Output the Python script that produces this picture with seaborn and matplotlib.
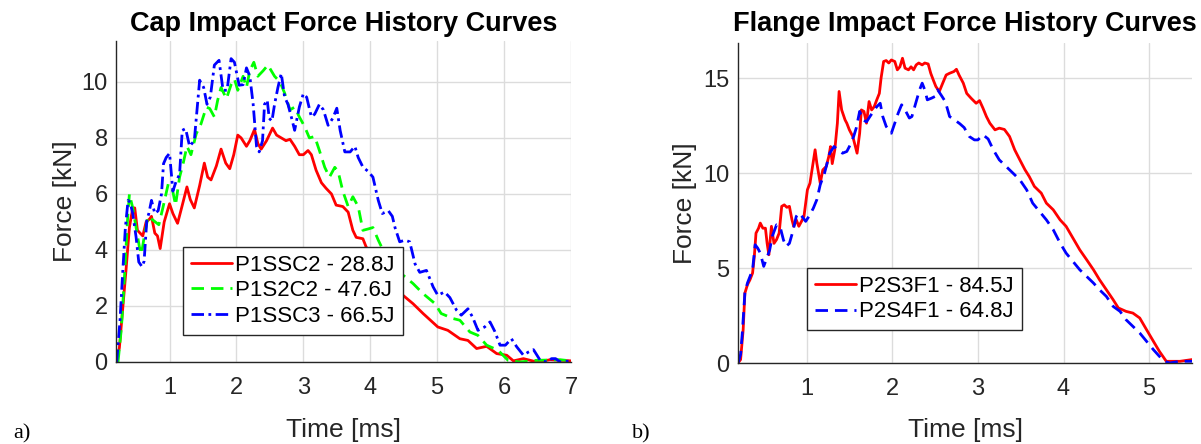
import numpy as np
import pandas as pd
import matplotlib
matplotlib.use("Agg")
import matplotlib.pyplot as plt
import seaborn as sns

# ---------------- data ----------------
cap_titles = "Cap Impact Force History Curves"
flange_title = "Flange Impact Force History Curves"

# Left panel: P1SSC2 - 28.8J (red, solid)
p1ssc2_t = [0.2, 0.25, 0.3, 0.35, 0.4, 0.45, 0.48, 0.52, 0.56, 0.6, 0.65, 0.7, 0.73, 0.78, 0.82, 0.86, 0.92,
            1.0, 1.05, 1.12, 1.18, 1.26, 1.31, 1.37, 1.45, 1.52, 1.57, 1.62, 1.7, 1.77, 1.84, 1.9, 1.96,
            2.02, 2.07, 2.15, 2.2, 2.27, 2.32, 2.37, 2.45, 2.54, 2.6, 2.67, 2.74, 2.8, 2.87, 2.94, 3.0,
            3.07, 3.12, 3.19, 3.27, 3.34, 3.42, 3.49, 3.59, 3.67, 3.74, 3.79, 3.89, 3.94, 4.05, 4.2,
            4.35, 4.46, 4.64, 4.79, 5.01, 5.16, 5.34, 5.46, 5.59, 5.74, 5.89, 6.04, 6.14, 6.29, 6.49,
            6.69, 7.0]
p1ssc2_f = [0.0, 0.5, 1.9, 3.3, 4.8, 5.5, 5.5, 4.7, 4.6, 4.5, 5.0, 5.1, 5.2, 4.6, 4.5, 4.05, 5.0,
            5.65, 5.3, 4.95, 5.5, 6.25, 5.8, 5.5, 6.3, 7.1, 6.6, 6.5, 7.0, 7.6, 7.1, 6.9, 7.4,
            8.1, 8.0, 7.7, 7.9, 8.3, 7.8, 7.6, 7.9, 8.35, 8.1, 8.0, 7.9, 7.95, 7.7, 7.4, 7.4,
            7.55, 7.4, 6.85, 6.4, 6.2, 6.0, 5.6, 5.55, 5.35, 4.7, 4.45, 4.4, 4.1, 3.8, 3.3,
            2.8, 2.44, 2.08, 1.73, 1.25, 1.13, 0.83, 0.77, 0.48, 0.56, 0.3, 0.24, 0.04, 0.12, 0.0,
            0.08, 0.04]

# Left panel: P1S2C2 - 47.6J (green, dashed)
p1s2c2_t = [0.23, 0.28, 0.33, 0.37, 0.4, 0.45, 0.5, 0.55, 0.58, 0.63, 0.68, 0.76, 0.84, 0.9, 0.98, 1.04,
            1.09, 1.15, 1.2, 1.26, 1.32, 1.4, 1.47, 1.55, 1.6, 1.67, 1.72, 1.77, 1.85, 1.92, 1.97, 2.02,
            2.1, 2.15, 2.2, 2.26, 2.32, 2.4, 2.47, 2.52, 2.57, 2.65, 2.72, 2.8, 2.87, 2.94, 3.02, 3.09,
            3.17, 3.24, 3.32, 3.39, 3.47, 3.52, 3.59, 3.67, 3.74, 3.82, 3.89, 3.97, 4.04, 4.12, 4.17,
            4.3, 4.49, 4.64, 4.79, 4.97, 5.06, 5.24, 5.34, 5.49, 5.61, 5.74, 5.91, 6.06, 6.24, 6.49,
            6.84, 7.0]
p1s2c2_f = [0.0, 1.2, 3.2, 5.0, 6.0, 5.5, 4.8, 4.1, 3.85, 4.6, 5.2, 5.05, 4.9, 5.5, 6.35, 6.2,
            5.6, 6.6, 7.05, 7.7, 7.4, 8.15, 8.5, 9.1, 9.05, 8.75, 9.35, 9.8, 9.4, 9.9, 10.1, 9.7,
            10.2, 9.8, 10.4, 10.7, 10.2, 10.4, 10.6, 10.4, 10.2, 10.0, 9.6, 9.0, 9.1, 8.75, 8.4, 8.0,
            8.05, 7.55, 6.95, 6.6, 6.95, 6.8, 6.1, 5.55, 5.9, 5.55, 4.7, 4.75, 4.8, 4.35, 4.1,
            3.6, 3.1, 2.8, 2.44, 2.08, 1.73, 1.55, 1.49, 1.07, 0.95, 0.6, 0.42, 0.06, 0.0, 0.06,
            0.08, 0.04]

# Left panel: P1SSC3 - 66.5J (blue, dash-dot)
p1ssc3_t = [0.21, 0.26, 0.3, 0.34, 0.38, 0.41, 0.45, 0.5, 0.54, 0.59, 0.62, 0.66, 0.69, 0.73, 0.78, 0.83,
            0.88, 0.91, 0.95, 1.0, 1.05, 1.1, 1.15, 1.19, 1.24, 1.3, 1.37, 1.45, 1.51, 1.56, 1.61, 1.67,
            1.74, 1.8, 1.86, 1.92, 1.97, 2.04, 2.1, 2.15, 2.2, 2.25, 2.3, 2.34, 2.39, 2.42, 2.46, 2.49,
            2.53, 2.57, 2.62, 2.67, 2.72, 2.77, 2.82, 2.87, 2.94, 3.0, 3.05, 3.12, 3.17, 3.24, 3.3,
            3.37, 3.44, 3.5, 3.55, 3.62, 3.7, 3.77, 3.82, 3.89, 3.97, 4.04, 4.12, 4.18, 4.27, 4.33,
            4.37, 4.44, 4.52, 4.59, 4.67, 4.74, 4.84, 4.94, 5.01, 5.11, 5.19, 5.29, 5.36, 5.46, 5.53,
            5.61, 5.71, 5.79, 5.86, 5.94, 6.02, 6.11, 6.19, 6.29, 6.36, 6.44, 6.54, 6.64, 6.71, 6.77,
            6.84, 7.0]
p1ssc3_f = [0.0, 1.5, 3.2, 4.8, 5.77, 5.7, 5.3, 4.46, 3.57, 3.4, 3.6, 5.06, 5.3, 5.77, 5.3, 5.4,
            6.0, 7.08, 7.3, 7.45, 6.1, 6.46, 6.7, 8.27, 8.33, 7.7, 7.9, 10.06, 9.8, 9.2, 9.46, 10.6,
            10.77, 9.7, 9.7, 10.83, 10.7, 9.88, 9.9, 10.5, 10.2, 9.2, 7.7, 7.5, 7.9, 9.2, 9.35, 8.7,
            8.6, 9.2, 9.8, 10.3, 9.46, 9.2, 8.75, 8.27, 9.1, 9.58, 9.45, 8.75, 8.85, 9.2, 9.0,
            8.45, 8.7, 9.06, 8.27, 7.5, 7.5, 7.7, 7.3, 6.96, 6.8, 6.6, 5.77, 5.3, 5.4, 5.2,
            4.8, 4.29, 4.35, 4.29, 3.5, 3.2, 3.27, 2.68, 2.38, 2.5, 2.3, 1.85, 1.67, 1.9, 1.6,
            1.13, 1.25, 1.43, 1.1, 0.6, 0.6, 0.83, 0.54, 0.24, 0.35, 0.44, 0.06, 0.0, 0.12, 0.12,
            0.0, 0.04]

# Right panel: P2S3F1 - 84.5J (red, solid)
p2s3f1_t = [0.2, 0.23, 0.26, 0.28, 0.31, 0.34, 0.37, 0.39, 0.41, 0.44, 0.46, 0.49, 0.52, 0.54, 0.56, 0.59,
            0.62, 0.65, 0.68, 0.71, 0.74, 0.77, 0.8, 0.83, 0.85, 0.88, 0.91, 0.94, 0.97, 1.01, 1.04, 1.07,
            1.1, 1.12, 1.16, 1.19, 1.23, 1.26, 1.28, 1.3, 1.33, 1.36, 1.38, 1.41, 1.45, 1.47, 1.5, 1.54,
            1.56, 1.59, 1.62, 1.64, 1.67, 1.7, 1.73, 1.76, 1.79, 1.82, 1.85, 1.87, 1.9, 1.93, 1.96, 1.99,
            2.03, 2.06, 2.09, 2.12, 2.15, 2.19, 2.22, 2.25, 2.28, 2.31, 2.35, 2.38, 2.42, 2.45, 2.48,
            2.51, 2.55, 2.59, 2.63, 2.67, 2.72, 2.75, 2.78, 2.83, 2.87, 2.92, 2.98, 3.02, 3.06, 3.1,
            3.14, 3.2, 3.25, 3.31, 3.37, 3.43, 3.49, 3.55, 3.6, 3.66, 3.74, 3.8, 3.88, 3.96, 4.03,
            4.11, 4.19, 4.27, 4.35, 4.42, 4.5, 4.58, 4.64, 4.73, 4.81, 4.89, 4.97, 5.05, 5.12, 5.2,
            5.28, 5.36, 5.5]
p2s3f1_f = [0.0, 0.18, 1.75, 3.68, 4.12, 4.39, 4.74, 5.6, 6.84, 7.1, 7.37, 7.1, 7.1, 6.3, 5.7, 7.2,
            6.3, 6.5, 6.84, 8.25, 8.33, 8.2, 8.25, 7.54, 7.2, 7.54, 7.2, 7.45, 7.72, 9.12, 9.47, 10.35,
            11.23, 10.53, 9.47, 10.17, 10.35, 10.88, 11.4, 10.5, 11.23, 12.63, 14.3, 13.33, 12.8, 12.63, 12.28, 11.93,
            11.58, 11.05, 12.1, 13.33, 13.25, 12.63, 13.77, 13.33, 13.5, 13.86, 14.2, 15.0, 15.88, 15.93, 15.8, 15.96,
            15.88, 15.44, 15.6, 16.05, 15.53, 15.44, 15.6, 15.44, 15.7, 15.8, 15.7, 15.8, 15.75, 15.26, 14.9,
            14.56, 14.3, 14.74, 15.17, 15.26, 15.35, 15.47, 15.17, 14.74, 14.2, 13.95, 13.68, 13.82, 13.42, 12.98,
            12.63, 12.28, 12.37, 12.3, 11.93, 11.23, 10.7, 10.18, 9.82, 9.3, 8.95, 8.42, 8.07, 7.54, 7.2,
            6.58, 5.96, 5.44, 4.91, 4.39, 3.86, 3.33, 2.9, 2.72, 2.63, 2.37, 1.75, 1.14, 0.61, 0.09,
            0.09, 0.09, 0.18]

# Right panel: P2S4F1 - 64.8J (blue, dashed)
p2s4f1_t = [0.2, 0.23, 0.25, 0.28, 0.31, 0.34, 0.37, 0.4, 0.43, 0.46, 0.5, 0.53, 0.57, 0.6, 0.65, 0.69,
            0.73, 0.76, 0.8, 0.84, 0.88, 0.91, 0.95, 0.99, 1.04, 1.08, 1.12, 1.16, 1.21, 1.27, 1.32, 1.37,
            1.42, 1.47, 1.5, 1.55, 1.58, 1.62, 1.66, 1.7, 1.74, 1.78, 1.82, 1.86, 1.89, 1.93, 1.99, 2.03,
            2.07, 2.11, 2.15, 2.2, 2.23, 2.28, 2.32, 2.35, 2.38, 2.41, 2.46, 2.5, 2.53, 2.57, 2.62, 2.67,
            2.73, 2.79, 2.84, 2.9, 2.96, 3.0, 3.06, 3.12, 3.18, 3.25, 3.33, 3.41, 3.49, 3.57, 3.64,
            3.72, 3.8, 3.88, 3.96, 4.03, 4.11, 4.19, 4.27, 4.35, 4.42, 4.5, 4.58, 4.66, 4.73, 4.81,
            4.89, 4.97, 5.05, 5.12, 5.18, 5.24, 5.36, 5.5]
p2s4f1_f = [0.0, 0.45, 1.58, 3.68, 4.21, 4.56, 4.91, 6.23, 6.05, 5.79, 5.09, 5.45, 5.96, 6.67, 7.28, 7.2,
            6.49, 6.14, 6.3, 6.93, 7.72, 7.9, 7.7, 7.46, 7.81, 8.16, 8.6, 9.39, 10.0, 11.05, 11.4, 11.23,
            11.05, 11.14, 11.4, 11.93, 12.37, 13.25, 12.8, 12.7, 12.98, 13.25, 13.5, 13.68, 12.98, 12.46, 12.1, 12.63,
            13.16, 13.6, 13.33, 12.9, 12.98, 13.77, 14.39, 14.74, 14.39, 13.86, 13.95, 14.04, 14.39, 14.12, 13.77, 12.98,
            12.8, 12.6, 12.4, 11.93, 11.75, 11.75, 12.02, 11.8, 11.23, 10.7, 10.35, 10.0, 9.65, 9.12, 8.42,
            7.98, 7.54, 7.02, 6.32, 5.79, 5.35, 4.91, 4.56, 4.21, 3.86, 3.51, 2.98, 2.72, 2.28, 1.93,
            1.58, 1.14, 0.7, 0.35, 0.09, 0.0, 0.09, 0.09]

left_labels = ["P1SSC2 - 28.8J", "P1S2C2 - 47.6J", "P1SSC3 - 66.5J"]
right_labels = ["P2S3F1 - 84.5J", "P2S4F1 - 64.8J"]
left_xticks = [1, 2, 3, 4, 5, 6, 7]
left_yticks = [0, 2, 4, 6, 8, 10]
right_xticks = [1, 2, 3, 4, 5]
right_yticks = [0, 5, 10, 15]

# ---------------- style ----------------
sns.set_theme(style="white")
plt.rcParams["font.family"] = ["Liberation Sans", "DejaVu Sans"]
plt.rcParams["axes.unicode_minus"] = False

TXT = "#262626"
GRID = "#dcdcdc"
LW = 2.0
DASH = (0, (4.5, 2.5))
DASHDOT = (0, (4.5, 1.6, 1.0, 1.6))

fig = plt.figure(figsize=(12.01, 4.44), dpi=100)
ax1 = fig.add_axes([0.0966, 0.1847, 0.3788, 0.7230])
ax2 = fig.add_axes([0.6145, 0.1824, 0.3780, 0.7206])

def df(t, f):
    return pd.DataFrame({"t": t, "f": f})

sns.lineplot(data=df(p1ssc2_t, p1ssc2_f), x="t", y="f", ax=ax1, color=(1, 0, 0), lw=LW,
             label=left_labels[0], estimator=None, sort=False)
sns.lineplot(data=df(p1s2c2_t, p1s2c2_f), x="t", y="f", ax=ax1, color=(0, 1, 0), lw=LW,
             linestyle=DASH, label=left_labels[1], estimator=None, sort=False)
sns.lineplot(data=df(p1ssc3_t, p1ssc3_f), x="t", y="f", ax=ax1, color=(0, 0, 1), lw=LW,
             linestyle=DASHDOT, label=left_labels[2], estimator=None, sort=False)

sns.lineplot(data=df(p2s3f1_t, p2s3f1_f), x="t", y="f", ax=ax2, color=(1, 0, 0), lw=LW,
             label=right_labels[0], estimator=None, sort=False)
sns.lineplot(data=df(p2s4f1_t, p2s4f1_f), x="t", y="f", ax=ax2, color=(0, 0, 1), lw=LW,
             linestyle=DASH, label=right_labels[1], estimator=None, sort=False)

def style_axes(ax, xlim, ylim, xt, yt):
    ax.set_xlim(*xlim)
    ax.set_ylim(*ylim)
    ax.set_xticks(xt)
    ax.set_yticks(yt)
    ax.set_xticklabels([str(v) for v in xt])
    ax.set_yticklabels([str(v) for v in yt])
    ax.grid(True, color=GRID, lw=1.0)
    ax.set_axisbelow(True)
    for s in ["top", "right"]:
        ax.spines[s].set_visible(False)
    for s in ["left", "bottom"]:
        ax.spines[s].set_color(TXT)
        ax.spines[s].set_linewidth(1.0)
    ax.tick_params(axis="both", direction="in", length=5, width=1.0, colors=TXT,
                   labelsize=17, labelcolor=TXT)
    ax.tick_params(axis="x", pad=11)
    ax.tick_params(axis="y", pad=6)
    ax.set_xlabel("Time [ms]", fontsize=19, color=TXT)
    ax.set_ylabel("Force [kN]", fontsize=19, color=TXT)
    ax.set_facecolor("white")

style_axes(ax1, (0.2, 7.0), (0, 11.46), left_xticks, left_yticks)
style_axes(ax2, (0.2, 5.5), (0, 16.85), right_xticks, right_yticks)

ax1.xaxis.set_label_coords(0.5, -0.175)
ax2.xaxis.set_label_coords(0.5, -0.172)
ax1.yaxis.set_label_coords(-0.086, 0.5)
ax2.yaxis.set_label_coords(-0.090, 0.5)

leg_kw = dict(loc="upper left", fontsize=16, frameon=True, fancybox=False, framealpha=1,
              edgecolor=TXT, borderpad=0.36, labelspacing=0.2, handlelength=1.85,
              handletextpad=0.15, borderaxespad=0.0)
l1 = ax1.legend(bbox_to_anchor=(183 / 1201, 1 - 246.7 / 444), bbox_transform=fig.transFigure, **leg_kw)
l2 = ax2.legend(bbox_to_anchor=(807 / 1201, 1 - 268 / 444), bbox_transform=fig.transFigure, **leg_kw)
for l in (l1, l2):
    l.get_frame().set_linewidth(1.0)
    for t in l.get_texts():
        t.set_color("black")

fig.text(343.5 / 1201, 1 - 31 / 444, cap_titles, ha="center", va="baseline",
         fontsize=19.5, fontweight="bold", color="black")
fig.text(965 / 1201, 1 - 31 / 444, flange_title, ha="center", va="baseline",
         fontsize=19.5, fontweight="bold", color="black")

fig.text(13 / 1201, 1 - 438 / 444, "a)", ha="left", va="baseline", fontsize=16,
         family=["Liberation Serif", "DejaVu Serif"], color="black")
fig.text(632 / 1201, 1 - 438 / 444, "b)", ha="left", va="baseline", fontsize=16,
         family=["Liberation Serif", "DejaVu Serif"], color="black")

fig.savefig("out.png", dpi=100, facecolor="white")
